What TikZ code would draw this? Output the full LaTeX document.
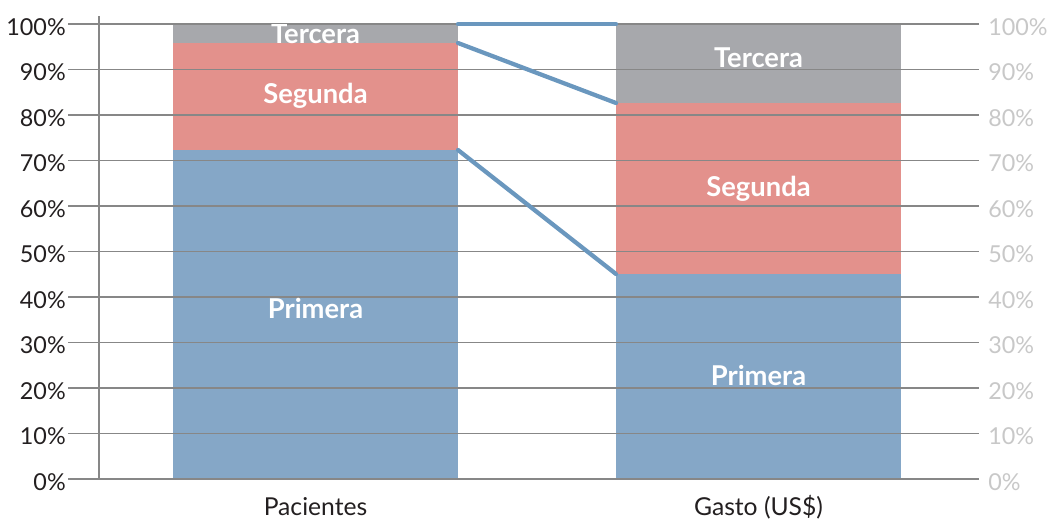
\documentclass[tikz,border=0pt]{standalone}
\usepackage{fontspec}
\setmainfont{Lato}
\usetikzlibrary{positioning}

\definecolor{primeraBlue}{RGB}{133,167,199}
\definecolor{segundaPink}{RGB}{227,145,140}
\definecolor{terceraGray}{RGB}{167,168,172}
\definecolor{linkBlue}{RGB}{106,151,190}
\definecolor{gridGray}{RGB}{135,135,135}
\definecolor{tickDark}{RGB}{35,31,32}
\definecolor{tickLight}{RGB}{200,200,200}

\tikzset{
  barlabel/.style={anchor=base,text=white,font=\fontsize{20.5}{22}\selectfont\bfseries,inner sep=0pt},
  catlabel/.style={anchor=base,text=tickDark,font=\fontsize{18.5}{20}\selectfont,inner sep=0pt},
  ticklabel/.style={text=tickDark,font=\fontsize{17.5}{20}\selectfont,inner sep=0pt},
  gridline/.style={draw=gridGray,line width=0.9pt},
  linkline/.style={draw=linkBlue,line width=3.2pt,line cap=round}
}

\begin{document}
\begin{tikzpicture}[x=0.75pt,y=0.75pt,yscale=-1,xscale=1]
\useasboundingbox (0,0) rectangle (1049,519);

%Shape: Rectangle [Pacientes bar]
\fill [primeraBlue] (173,479) rectangle (458,150) ;
\fill [segundaPink] (173,150) rectangle (458,43) ;
\fill [terceraGray] (173,43) rectangle (458,24) ;

%Shape: Rectangle [Gasto bar]
\fill [primeraBlue] (616,479) rectangle (901,274) ;
\fill [segundaPink] (616,274) rectangle (901,103) ;
\fill [terceraGray] (616,103) rectangle (901,24) ;

%Straight Lines [grid]
\foreach \k in {0,...,10}{
  \draw [gridline] (68,{479-45.5*\k}) -- (979,{479-45.5*\k}) ;
  \node [ticklabel,anchor=base east] (tickL\k) at (66,{479-45.5*\k+11}) {\pgfmathparse{int(10*\k)}\pgfmathresult\%};
  \node [ticklabel,anchor=base west,text=tickLight] (tickR\k) at (988,{479-45.5*\k+11}) {\pgfmathparse{int(10*\k)}\pgfmathresult\%};
}

%Straight Lines [axis]
\draw [gridGray,line width=0.9pt] (99,16) -- (99,479) ;

% corners of the segments
\coordinate (pacTop) at (458,24);
\coordinate (pacSeg) at (458,43);
\coordinate (pacPri) at (458,150);
\coordinate (gasTop) at (616,24);
\coordinate (gasSeg) at (616,103);
\coordinate (gasPri) at (616,274);

%Straight Lines [links]
\draw [linkline] (pacTop) -- (gasTop) ;
\draw [linkline] (pacSeg) -- (gasSeg) ;
\draw [linkline] (pacPri) -- (gasPri) ;

% Text Node
\begin{scope}
\clip (99,24) rectangle (979,479);
\node [barlabel] (pacTer) at (315.5,43) {Tercera};
\node [barlabel] (pacSegLbl) at (315.5,103) {Segunda};
\node [barlabel] (pacPriLbl) at (315.5,318) {Primera};
\node [barlabel] (gasTer) at (758.5,67) {Tercera};
\node [barlabel] (gasSegLbl) at (758.5,196) {Segunda};
\node [barlabel] (gasPriLbl) at (758.5,385) {Primera};
\end{scope}

% Text Node
\node [catlabel] (pacientes) at (315.5,515) {Pacientes};
\node [catlabel] (gasto) at (758.5,515) {Gasto (US\$)};

\end{tikzpicture}
\end{document}
